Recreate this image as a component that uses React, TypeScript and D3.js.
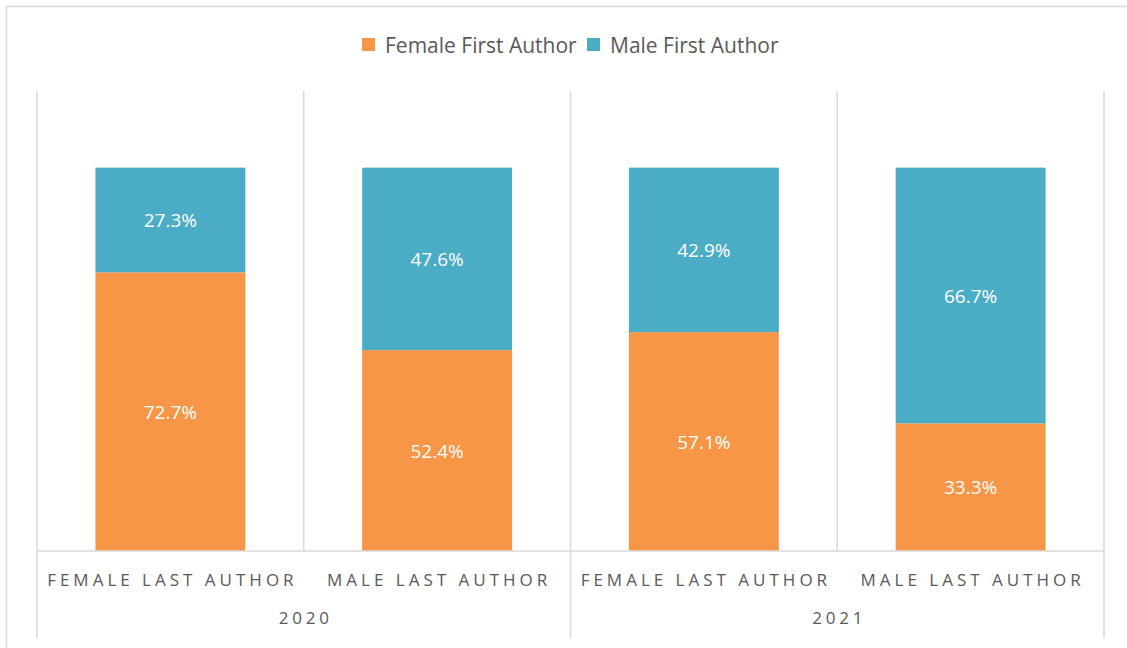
import { useRef, useEffect } from 'react';
import * as d3 from 'd3';

const YEARS = ['2020', '2021'];
const LAST_AUTHOR = ['FEMALE LAST AUTHOR', 'MALE LAST AUTHOR'];
const FEMALE_FIRST = [72.7, 52.4, 57.1, 33.3];
const MALE_FIRST = [27.3, 47.6, 42.9, 66.7];
const SERIES = ['Female First Author', 'Male First Author'];
const COLORS = ['#F79646', '#4BACC6'];

const FONT = "'Open Sans', 'Liberation Sans', sans-serif";

export default function App() {
  const svgRef = useRef<SVGSVGElement>(null);

  useEffect(() => {
    const width = 1127;
    const height = 648;
    const svg = d3.select(svgRef.current).attr('width', width).attr('height', height);
    svg.selectAll('*').remove();

    const left = 37, right = 1104, top = 91, base = 551;

    // one row per bar
    const rows = YEARS.flatMap((yr, i) =>
      LAST_AUTHOR.map((cat, j) => ({
        key: `${yr}-${cat}`, year: yr, cat,
        female: FEMALE_FIRST[i * 2 + j], male: MALE_FIRST[i * 2 + j],
      })));

    const x = d3.scaleBand().domain(rows.map(r => r.key)).range([left, right]);
    const xYear = d3.scaleBand().domain(YEARS).range([left, right]);
    const y = d3.scaleLinear().domain([0, 120]).range([base, top]);
    const barW = x.bandwidth() * 0.562;

    // outer frame
    svg.append('rect')
      .attr('x', 6.5).attr('y', 6.5).attr('width', 1140).attr('height', 660)
      .attr('fill', '#fff').attr('stroke', '#d9d9d9').attr('stroke-width', 1.5);

    // vertical separators
    const g = svg.append('g');
    rows.forEach((r, i) => {
      const xs = x(r.key)!;
      const isGroup = i % 2 === 0;
      g.append('line')
        .attr('x1', xs).attr('x2', xs)
        .attr('y1', top).attr('y2', isGroup ? 638 : base)
        .attr('stroke', '#d9d9d9').attr('stroke-width', 1.5);
    });
    g.append('line')
      .attr('x1', right).attr('x2', right).attr('y1', top).attr('y2', 638)
      .attr('stroke', '#d9d9d9').attr('stroke-width', 1.5);

    // stacked bars
    const stack = d3.stack<any>().keys(['female', 'male'])(rows);
    stack.forEach((layer, si) => {
      const lg = svg.append('g');
      layer.forEach((d: any) => {
        const cx = x(d.data.key)! + x.bandwidth() / 2;
        lg.append('rect')
          .attr('x', cx - barW / 2).attr('width', barW)
          .attr('y', y(d[1])).attr('height', y(d[0]) - y(d[1]))
          .attr('fill', COLORS[si]);
        lg.append('text')
          .attr('x', cx).attr('y', (y(d[0]) + y(d[1])) / 2)
          .attr('text-anchor', 'middle').attr('dominant-baseline', 'central')
          .attr('fill', '#fff').attr('font-family', FONT).attr('font-size', 19)
          .text(`${(d[1] - d[0]).toFixed(1)}%`);
      });
    });

    // baseline
    svg.append('line')
      .attr('x1', left).attr('x2', right).attr('y1', base).attr('y2', base)
      .attr('stroke', '#d9d9d9').attr('stroke-width', 1.5);

    // category labels
    rows.forEach(r => {
      svg.append('text')
        .attr('x', x(r.key)! + x.bandwidth() / 2 + 2).attr('y', 579)
        .attr('text-anchor', 'middle').attr('dominant-baseline', 'central')
        .attr('fill', '#595959').attr('font-family', FONT).attr('font-size', 17)
        .attr('letter-spacing', 4)
        .text(r.cat);
    });
    YEARS.forEach(yr => {
      svg.append('text')
        .attr('x', xYear(yr)! + xYear.bandwidth() / 2 + 2).attr('y', 617)
        .attr('text-anchor', 'middle').attr('dominant-baseline', 'central')
        .attr('fill', '#595959').attr('font-family', FONT).attr('font-size', 17)
        .attr('letter-spacing', 3.8)
        .text(yr);
    });

    // legend
    const legendX = [362, 587];
    SERIES.forEach((s, i) => {
      svg.append('rect')
        .attr('x', legendX[i]).attr('y', 38).attr('width', 13).attr('height', 13)
        .attr('fill', COLORS[i]);
      svg.append('text')
        .attr('x', legendX[i] + 23).attr('y', 45)
        .attr('dominant-baseline', 'central')
        .attr('fill', '#595959').attr('font-family', FONT).attr('font-size', 21)
        .text(s);
    });
  }, []);

  return (
    <svg ref={svgRef} style={{ position: 'absolute', left: 0, top: 0, display: 'block' }} />
  );
}
